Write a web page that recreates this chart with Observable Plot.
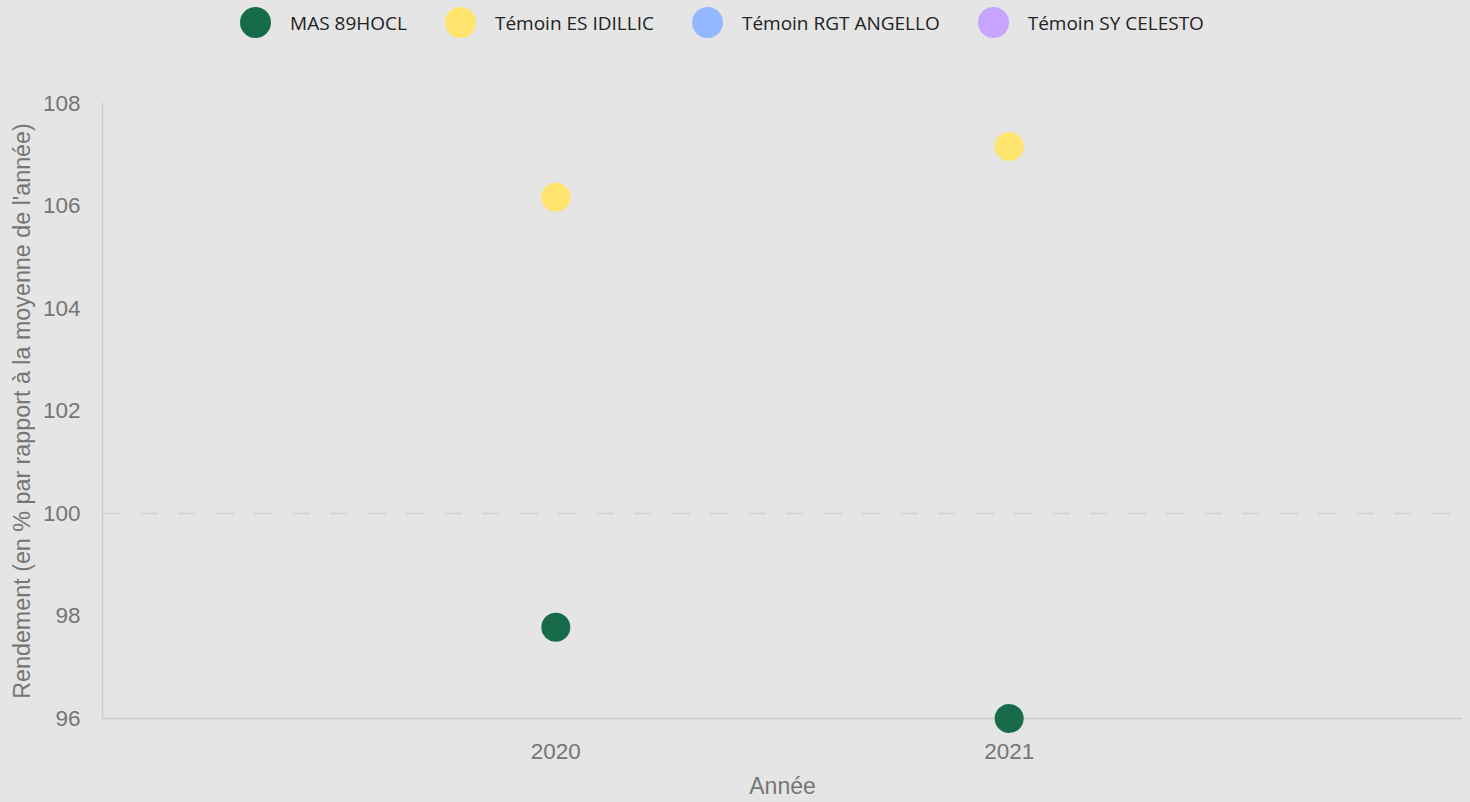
<!DOCTYPE html>
<html>
<head>
<meta charset="utf-8">
<script src="https://cdn.jsdelivr.net/npm/d3@7"></script>
<script src="https://cdn.jsdelivr.net/npm/@observablehq/plot@0.6"></script>
<style>
  html, body { margin: 0; padding: 0; background: #e5e5e5; }
  #legend { height: 50px; display: flex; justify-content: center; align-items: flex-start; padding-top: 7px; padding-right: 26px; box-sizing: border-box; font-family: "Open Sans", sans-serif; font-size: 19px; color: #222; }
  .item { display: flex; align-items: center; margin: 0 19px; }
  .sw { width: 31px; height: 31px; border-radius: 50%; margin-right: 19px; }
  #chart svg { display: block; }
</style>
</head>
<body>
<div id="legend"></div>
<div id="chart"></div>
<script>
const years = [2020, 2021];
const series = ["MAS 89HOCL", "Témoin ES IDILLIC", "Témoin RGT ANGELLO", "Témoin SY CELESTO"];
const colors = ["#176b4a", "#ffe46e", "#94b8ff", "#c6a4ff"];
const masValues = [97.78, 96.0];
const idillicValues = [106.17, 107.16];
const yTicks = [96, 98, 100, 102, 104, 106, 108];
const xLabel = "Année";
const yLabel = "Rendement (en % par rapport à la moyenne de l'année)";

const data = [
  ...years.map((y, i) => ({year: y, value: masValues[i], serie: series[0]})),
  ...years.map((y, i) => ({year: y, value: idillicValues[i], serie: series[1]}))
];

const legend = document.getElementById("legend");
series.forEach((s, i) => {
  const it = document.createElement("div");
  it.className = "item";
  it.innerHTML = `<div class="sw" style="background:${colors[i]}"></div><span>${s}</span>`;
  legend.appendChild(it);
});

const chart = Plot.plot({
  width: 1470,
  height: 752,
  marginTop: 53,
  marginBottom: 84,
  marginLeft: 102,
  marginRight: 8,
  style: {background: "#e5e5e5", fontFamily: "'Liberation Sans', Arial, sans-serif", fontSize: "22.5px", color: "#757575"},
  x: {domain: [2019, 2022], ticks: years, tickFormat: d3.format("d")},
  y: {domain: [96, 108], ticks: yTicks},
  color: {domain: series, range: colors},
  marks: [
    Plot.ruleY([100], {stroke: "#d3d3d3", strokeWidth: 1.5, strokeDasharray: "18,20"}),
    Plot.ruleY([96], {stroke: "#cccccc", strokeWidth: 1.5}),
    Plot.ruleX([2019], {stroke: "#cccccc", strokeWidth: 1.5}),
    Plot.axisX({ticks: years, tickFormat: d3.format("d"), tickSize: 0, tickPadding: 25, label: null, fill: "#757575", fontSize: 22.5}),
    Plot.axisY({ticks: yTicks, tickSize: 0, tickPadding: 22, label: null, fill: "#757575", fontSize: 22.5}),
    Plot.text([xLabel], {frameAnchor: "bottom", dy: 68, lineAnchor: "middle", fill: "#757575", fontSize: 23}),
    Plot.text([yLabel], {frameAnchor: "left", dx: -80, rotate: -90, textAnchor: "middle", lineAnchor: "middle", fill: "#757575", fontSize: 23.3}),
    Plot.dot(data, {x: "year", y: "value", fill: "serie", r: 14.5})
  ]
});
document.getElementById("chart").appendChild(chart);
</script>
</body>
</html>
